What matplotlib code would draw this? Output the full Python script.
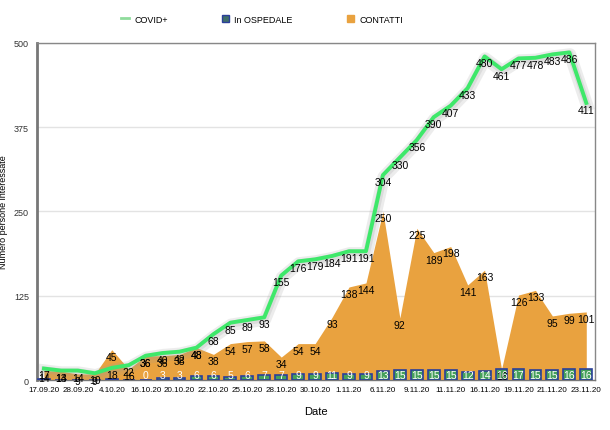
import matplotlib
matplotlib.use("Agg")
import matplotlib.pyplot as plt
import matplotlib.patheffects as pe
from matplotlib.patches import Patch
from matplotlib.lines import Line2D

plt.rcParams['font.family'] = ['Liberation Sans', 'DejaVu Sans']

# data
dates = ['17.09.20', '', '28.09.20', '', '4.10.20', '', '16.10.20', '', '20.10.20', '',
         '22.10.20', '', '25.10.20', '', '28.10.20', '', '30.10.20', '', '1.11.20', '',
         '6.11.20', '', '9.11.20', '', '11.11.20', '', '16.11.20', '', '19.11.20', '',
         '21.11.20', '', '23.11.20']
covid = [17, 14, 14, 10, 18, 22, 36, 40, 42, 48, 68, 85, 89, 93, 155, 176, 179, 184,
         191, 191, 304, 330, 356, 390, 407, 433, 480, 461, 477, 478, 483, 486, 411]
contatti = [14, 13, 9, 9, 45, 16, 36, 36, 38, 48, 38, 54, 57, 58, 34, 54, 54, 93,
            138, 144, 250, 92, 225, 189, 198, 141, 163, 16, 126, 133, 95, 99, 101]
ospedale = [1, 0, 0, 0, 2, 0, 0, 3, 3, 6, 6, 5, 6, 7, 7, 9, 9, 11, 9, 9, 13, 15,
            15, 15, 15, 12, 14, 16, 17, 15, 15, 16, 16]

x = list(range(len(covid)))

fig = plt.figure(figsize=(6.1, 4.31), dpi=100)
ax = fig.add_axes([0.061, 0.116, 0.914, 0.782])

orange = '#e9a23f'
green = '#3ee86a'

# contatti area
ax.fill_between(x, contatti, 0, color=orange, lw=0, zorder=2)

# ospedale bars
ax.bar(x, ospedale, width=0.7, color='#45a05a', edgecolor='#2b3f9a', linewidth=1.2, zorder=3)

# covid line with soft shadow
ax.plot(x, covid, color=green, lw=2.8, zorder=5,
        path_effects=[pe.SimpleLineShadow(offset=(0.5, -1.5), shadow_color='#999999', alpha=0.18, linewidth=9),
                      pe.SimpleLineShadow(offset=(0.5, -1.0), shadow_color='#999999', alpha=0.2, linewidth=5),
                      pe.Normal()])

# labels
for i in x:
    ax.annotate(str(covid[i]), (i, covid[i]), xytext=(0, -5), textcoords='offset points',
                ha='center', va='center', fontsize=7.5, color='black', zorder=7)
    ax.annotate(str(contatti[i]), (i, contatti[i]), xytext=(0, -5), textcoords='offset points',
                ha='center', va='center', fontsize=7.5, color='black', zorder=6)
    if i >= 6:
        ax.text(i, 8, str(ospedale[i]), ha='center', va='center', fontsize=7.5,
                color='white', zorder=6)

ax.set_xlim(-0.4, 32.5)
ax.set_ylim(0, 500)
ax.set_yticks([0, 125, 250, 375, 500])
ax.set_xticks(x)
ax.set_xticklabels(dates, fontsize=5.8)
ax.tick_params(axis='y', labelsize=6.5, length=0, pad=6, colors='#333333')
ax.tick_params(axis='x', length=0, pad=4)
ax.grid(axis='y', color='#e3e3e3', lw=1)
ax.set_axisbelow(True)

for side in ['top', 'right']:
    ax.spines[side].set_color('#888888')
    ax.spines[side].set_linewidth(1)
ax.spines['left'].set_color('#777777')
ax.spines['left'].set_linewidth(2)
ax.spines['bottom'].set_color('#777777')
ax.spines['bottom'].set_linewidth(1)

ax.set_ylabel('Numero persone interessate', fontsize=6.5, labelpad=4)
ax.set_xlabel('Date', fontsize=8, labelpad=10)

handles = [Line2D([0], [0], color='#8fdc9c', lw=2),
           Patch(facecolor='#3f6f6a', edgecolor='#2b3f9a', lw=1),
           Patch(facecolor=orange, edgecolor=orange)]
fig.legend(handles, ['COVID+', 'In OSPEDALE', 'CONTATTI'], loc='center',
           bbox_to_anchor=(0.43, 0.953), ncol=3, frameon=False, fontsize=6.5,
           columnspacing=6, handlelength=0.8, handleheight=0.9, handletextpad=0.6)

fig.savefig('out.png', dpi=100)
